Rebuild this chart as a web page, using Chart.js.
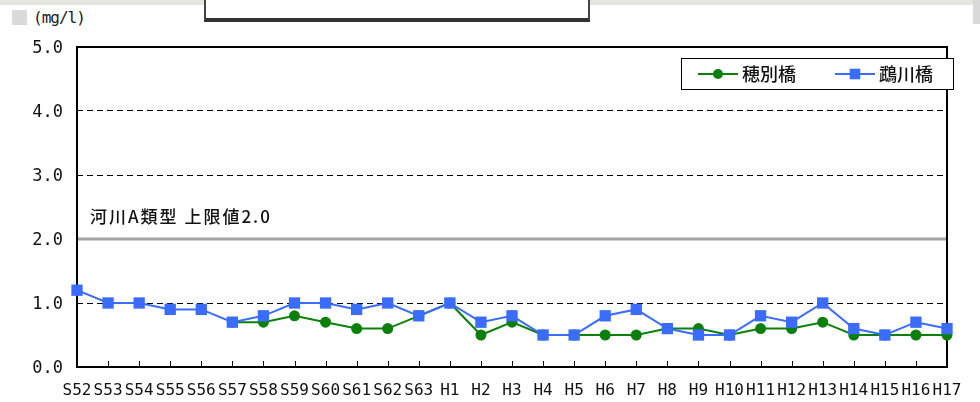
<!DOCTYPE html>
<html>
<head>
<meta charset="utf-8">
<script src="https://cdn.jsdelivr.net/npm/chart.js@4.4.1/dist/chart.umd.min.js"></script>
<style>
  html, body { margin: 0; padding: 0; background: #fff; }
  #wrap { position: relative; width: 980px; height: 402px; overflow: hidden; background: #fff; }
  #strip { position: absolute; left: 0; top: 0; width: 980px; height: 5px; background: #e6e4de; }
  #corner { position: absolute; left: 973px; top: 0; width: 7px; height: 24px; background: #d9d9d9; }
  #icon { position: absolute; left: 12px; top: 10px; width: 15px; height: 15px; background: #dadada; }
  #unit { position: absolute; left: 33px; top: 8px; font: 16px 'DejaVu Sans Mono', monospace; color: #222; letter-spacing: -1px; }
  #topbox { position: absolute; left: 204px; top: -4px; width: 382px; height: 22px; background: #fff;
            border-left: 2px solid #444; border-right: 2px solid #444; border-bottom: 4px solid #333; }
  canvas { position: absolute; left: 0; top: 0; }
</style>
</head>
<body>
<div id="wrap">
  <div id="strip"></div>
  <div id="corner"></div>
  <div id="topbox"></div>
  <div id="icon"></div>
  <div id="unit">(mg/l)</div>
  <canvas id="c" width="980" height="402"></canvas>
</div>
<script>
// 年度（昭和52年度〜平成17年度）
const years = ['S52','S53','S54','S55','S56','S57','S58','S59','S60','S61','S62','S63',
  'H1','H2','H3','H4','H5','H6','H7','H8','H9','H10','H11','H12','H13','H14','H15','H16','H17'];

// 穂別橋（S57から測定）
const hobetsu = [null, null, null, null, null, 0.7, 0.7, 0.8, 0.7, 0.6, 0.6, 0.8,
  1.0, 0.5, 0.7, 0.5, 0.5, 0.5, 0.5, 0.6, 0.6, 0.5, 0.6, 0.6, 0.7, 0.5, 0.5, 0.5, 0.5];

// 鵡川橋
const mukawa = [1.2, 1.0, 1.0, 0.9, 0.9, 0.7, 0.8, 1.0, 1.0, 0.9, 1.0, 0.8,
  1.0, 0.7, 0.8, 0.5, 0.5, 0.8, 0.9, 0.6, 0.5, 0.5, 0.8, 0.7, 1.0, 0.6, 0.5, 0.7, 0.6];

// 縦軸目盛
const yTicks = [0, 1, 2, 3, 4, 5];

// 環境基準（河川A類型）
const limitValue = 2.0;
const limitLabel = '河川A類型 上限値2.0';

const GREEN = '#0a800a';
const BLUE = '#3a6cff';
const JP = "'Noto Sans CJK JP', sans-serif";
const MONO = "'DejaVu Sans Mono', monospace";

const framePlugin = {
  id: 'frame',
  beforeDatasetsDraw(chart) {
    const { ctx, chartArea: a, scales: { x, y } } = chart;
    ctx.save();
    // 基準値の線と注記
    const yl = y.getPixelForValue(limitValue);
    ctx.strokeStyle = '#a3a3a3';
    ctx.lineWidth = 3;
    ctx.beginPath();
    ctx.moveTo(a.left, yl);
    ctx.lineTo(a.right, yl);
    ctx.stroke();
    ctx.fillStyle = '#111';
    ctx.font = '500 17px ' + JP;
    ctx.textBaseline = 'middle';
    ctx.textAlign = 'left';
    ctx.letterSpacing = '2px';
    ctx.fillText(limitLabel, a.left + 13, yl - 22);
    ctx.letterSpacing = '0px';
    // 枠
    ctx.strokeStyle = '#000';
    ctx.lineWidth = 2;
    ctx.strokeRect(a.left, a.top, a.right - a.left, a.bottom - a.top);
    // 横軸の目盛線（内向き）
    ctx.lineWidth = 1;
    ctx.beginPath();
    years.forEach((_, i) => {
      const px = Math.round(x.getPixelForValue(i)) + 0.5;
      ctx.moveTo(px, a.bottom);
      ctx.lineTo(px, a.bottom - 6);
    });
    ctx.stroke();
    ctx.restore();
  },
  afterDatasetsDraw(chart) {
    const { ctx } = chart;
    ctx.save();
    // 凡例
    const bx = 681, by = 58, bw = 272, bh = 31;
    ctx.fillStyle = '#fff';
    ctx.fillRect(bx, by, bw, bh);
    ctx.strokeStyle = '#000';
    ctx.lineWidth = 1;
    ctx.strokeRect(bx + 0.5, by + 0.5, bw, bh);
    const cy = by + bh / 2 + 0.5;
    const items = [
      { label: chart.data.datasets[1].label, color: GREEN, style: 'circle', r: 5, x0: 698 },
      { label: chart.data.datasets[0].label, color: BLUE, style: 'rect', r: 7.5, x0: 835 }
    ];
    ctx.font = '500 18px ' + JP;
    ctx.textBaseline = 'middle';
    ctx.textAlign = 'left';
    items.forEach(it => {
      ctx.strokeStyle = it.color;
      ctx.lineWidth = 2;
      ctx.beginPath();
      ctx.moveTo(it.x0, cy);
      ctx.lineTo(it.x0 + 40, cy);
      ctx.stroke();
      ctx.fillStyle = it.color;
      ctx.beginPath();
      if (it.style === 'circle') { ctx.arc(it.x0 + 20, cy, it.r, 0, Math.PI * 2); }
      else { const s = it.r * Math.SQRT1_2; ctx.rect(it.x0 + 20 - s, cy - s, 2 * s, 2 * s); }
      ctx.fill();
      ctx.fillStyle = '#111';
      ctx.fillText(it.label, it.x0 + 44, cy);
    });
    ctx.restore();
  }
};

new Chart(document.getElementById('c'), {
  type: 'line',
  data: {
    labels: years,
    datasets: [
      {
        label: '鵡川橋', data: mukawa, order: 0,
        borderColor: BLUE, backgroundColor: BLUE, borderWidth: 2,
        pointStyle: 'rect', pointRadius: 8, pointBorderWidth: 0, pointHoverRadius: 8,
        tension: 0, clip: false, spanGaps: false
      },
      {
        label: '穂別橋', data: hobetsu, order: 1,
        borderColor: GREEN, backgroundColor: GREEN, borderWidth: 2,
        pointStyle: 'circle', pointRadius: 5.5, pointBorderWidth: 0, pointHoverRadius: 5.5,
        tension: 0, clip: false, spanGaps: false
      }
    ]
  },
  options: {
    responsive: false,
    animation: false,
    events: [],
    layout: { padding: { top: 47, right: 33, left: 0, bottom: 0 } },
    plugins: { legend: { display: false }, tooltip: { enabled: false } },
    scales: {
      x: {
        offset: false,
        grid: { display: false, drawTicks: false },
        border: { display: false },
        ticks: {
          autoSkip: false, maxRotation: 0, minRotation: 0, padding: 14,
          color: '#111', font: { family: MONO, size: 16 }
        },
        afterFit(s) { s.height = 35; }
      },
      y: {
        min: yTicks[0], max: yTicks[yTicks.length - 1],
        afterBuildTicks(s) { s.ticks = yTicks.map(v => ({ value: v })); },
        grid: {
          drawTicks: false,
          color: c => (c.tick && (c.tick.value === yTicks[0] || c.tick.value === yTicks[yTicks.length - 1])) ? 'rgba(0,0,0,0)' : '#000',
          lineWidth: 1
        },
        border: { display: false, dash: [6, 4] },
        ticks: {
          padding: 14, labelOffset: 2, color: '#111', font: { family: MONO, size: 17 },
          callback: v => Number(v).toFixed(1)
        },
        afterFit(s) { s.width = 77; }
      }
    }
  },
  plugins: [framePlugin]
});
</script>
</body>
</html>
